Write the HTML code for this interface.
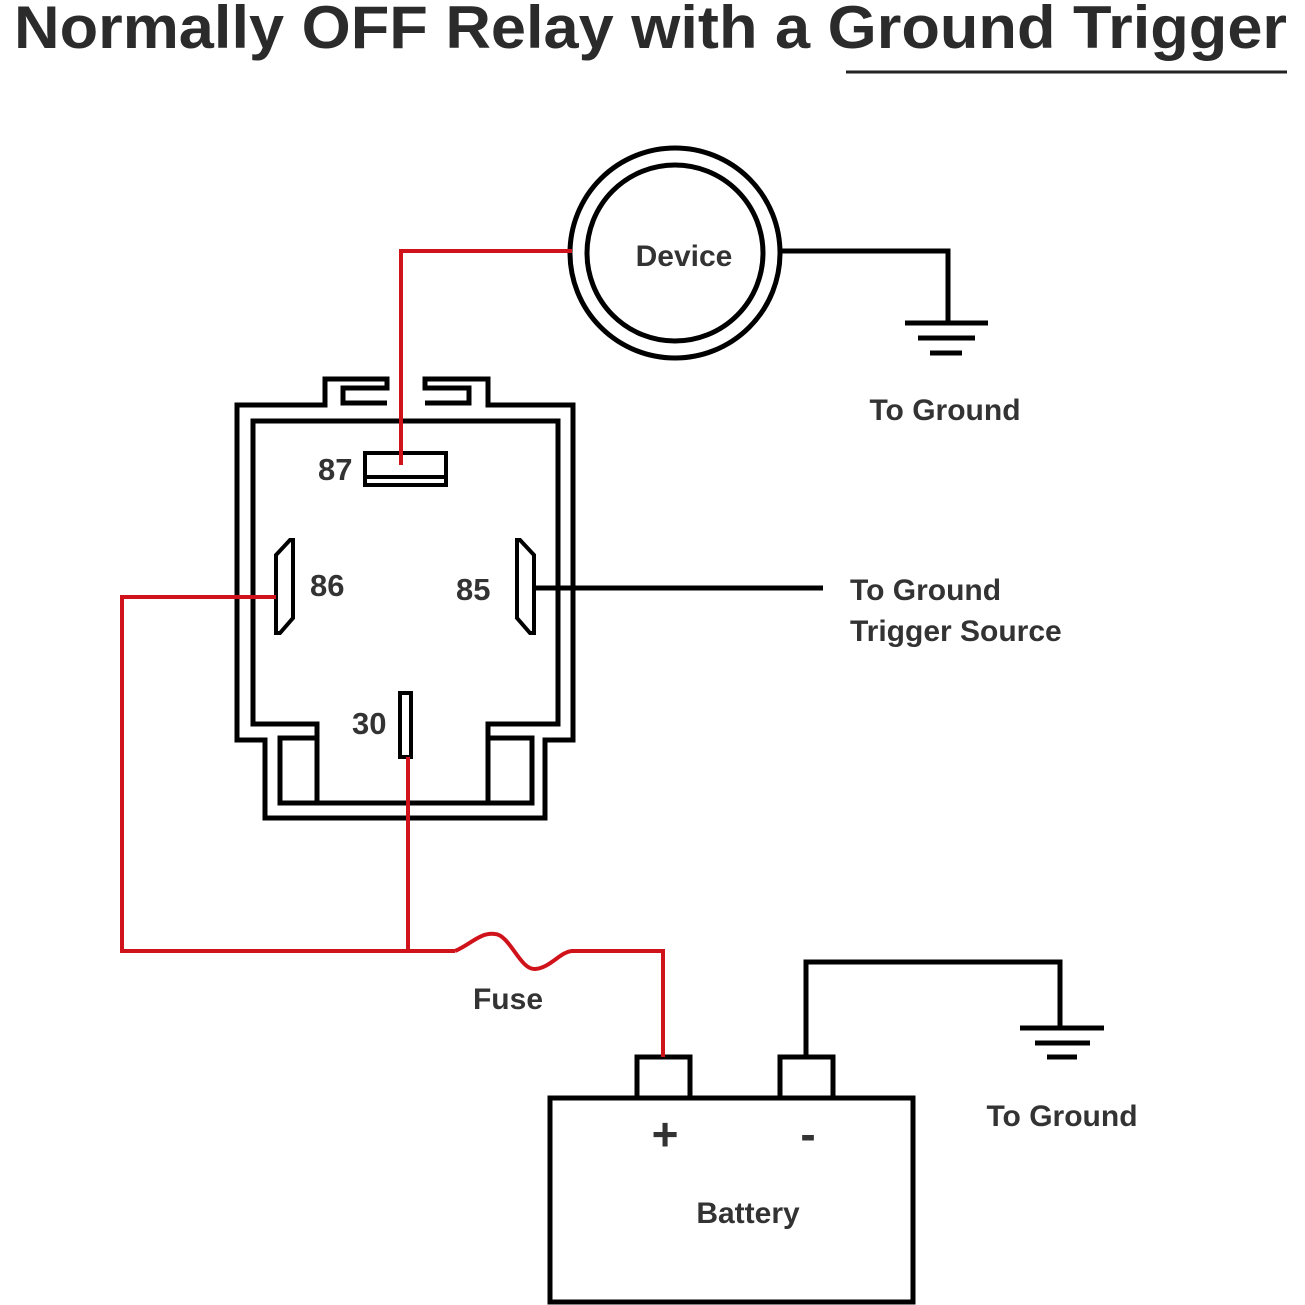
<!DOCTYPE html>
<html><head><meta charset="utf-8"><style>html,body{margin:0;padding:0;background:#fff}svg{display:block}</style></head>
<body>
<svg width="1305" height="1305" viewBox="0 0 1305 1305" xmlns="http://www.w3.org/2000/svg" font-family="Liberation Sans, Arial, sans-serif" font-weight="bold" fill="#333">
<text x="14" y="48" font-size="60" textLength="1273" lengthAdjust="spacingAndGlyphs" fill="#2b2b2b">Normally OFF Relay with a Ground Trigger</text>
<line x1="846" y1="72" x2="1287" y2="72" stroke="#222" stroke-width="3"/>
<g fill="none" stroke="#000" stroke-width="5">
<path d="M387,403 H343 V388 H387 V379 H325 V405 H237 V740 H265 V818 H545 V740 H573 V405 H488 V379 H425 V388 H469 V403 H425"/>
<path d="M253,421 H558 V724 H488 V803 H317 V724 H253 Z"/>
<rect x="280" y="738" width="37" height="65"/>
<rect x="488" y="738" width="44" height="65"/>
<rect x="365" y="453" width="81" height="32" stroke-width="4"/>
<line x1="365" y1="477" x2="446" y2="477" stroke-width="4"/>
<path d="M276,633 V555 L290,540 H293 V618 L280,633 Z" stroke-width="4"/>
<path d="M534,633 V555 L520,540 H517 V618 L530,633 Z" stroke-width="4"/>
<rect x="400" y="693" width="11" height="64" stroke-width="4"/>
<circle cx="675" cy="253" r="105"/>
<circle cx="675" cy="253" r="88"/>
<polyline points="780,251 948,251 948,323"/>
<line x1="905" y1="323" x2="988" y2="323"/>
<line x1="918" y1="338" x2="975" y2="338"/>
<line x1="930" y1="353" x2="962" y2="353"/>
<line x1="534" y1="588" x2="823" y2="588"/>
<rect x="550" y="1098" width="363" height="204"/>
<rect x="637" y="1057" width="53" height="41"/>
<rect x="780" y="1057" width="53" height="41"/>
<polyline points="806,1057 806,962 1060,962 1060,1028"/>
<line x1="1020" y1="1028" x2="1104" y2="1028"/>
<line x1="1035" y1="1043" x2="1090" y2="1043"/>
<line x1="1047" y1="1057" x2="1077" y2="1057"/>
</g>
<g fill="none" stroke="#d0121b" stroke-width="4">
<polyline points="401,465 401,251 572,251"/>
<polyline points="276,597 122,597 122,951 455,951"/>
<line x1="408" y1="757" x2="408" y2="951"/>
<path d="M455,951 C470,945 480,932 495,934 C510,935 520,970 535,969 C550,968 560,952 572,951 H663 V1057"/>
</g>
<g font-size="31" fill="#333">
<text x="318" y="480">87</text>
<text x="310" y="596">86</text>
<text x="456" y="600">85</text>
<text x="352" y="734">30</text>
</g>
<g font-size="30" fill="#333">
<text x="684" y="266" text-anchor="middle">Device</text>
<text x="945" y="420" text-anchor="middle">To Ground</text>
<text x="850" y="600">To Ground</text>
<text x="850" y="641">Trigger Source</text>
<text x="508" y="1009" text-anchor="middle">Fuse</text>
<text x="1062" y="1126" text-anchor="middle">To Ground</text>
<text x="748" y="1223" text-anchor="middle">Battery</text>
<text x="665" y="1150" text-anchor="middle" font-size="46">+</text>
<text x="808" y="1150" text-anchor="middle" font-size="46">-</text>
</g>
</svg>
</body></html>
